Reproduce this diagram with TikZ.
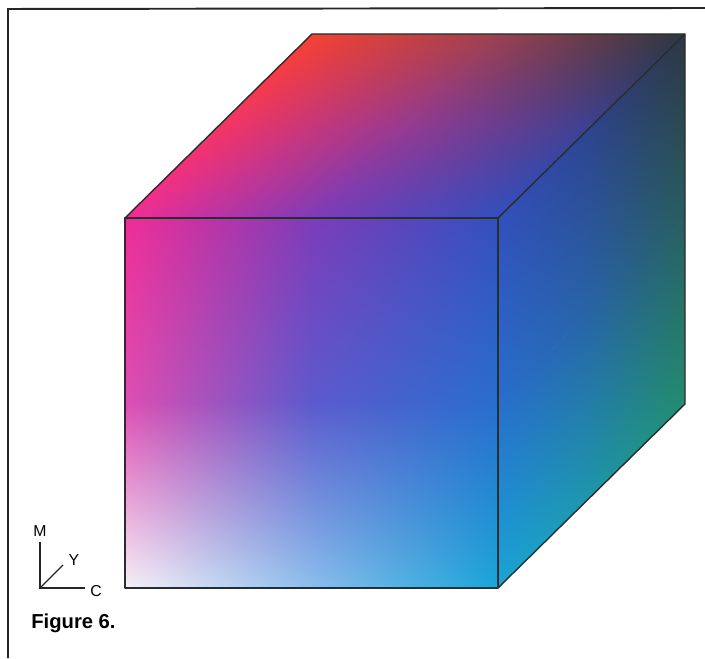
\documentclass[tikz,border=0pt]{standalone}
\usepackage{fontspec}
\setmainfont{Liberation Sans}
\usetikzlibrary{shadings}

% corner and midpoint colours of the three faces
\definecolor{fTL}{RGB}{240,45,150}
\definecolor{fTM}{RGB}{125,60,185}
\definecolor{fTR}{RGB}{50,80,190}
\definecolor{fML}{RGB}{222,78,178}
\definecolor{fMM}{RGB}{92,90,205}
\definecolor{fMR}{RGB}{40,110,205}
\definecolor{fBL}{RGB}{246,240,248}
\definecolor{fBM}{RGB}{140,190,236}
\definecolor{fBR}{RGB}{25,165,215}

\definecolor{tML}{RGB}{245,52,100}
\definecolor{tMM}{RGB}{150,58,145}
\definecolor{tMR}{RGB}{60,65,145}
\definecolor{tTL}{RGB}{245,65,50}
\definecolor{tTM}{RGB}{155,65,80}
\definecolor{tTR}{RGB}{45,55,65}

\definecolor{rTM}{RGB}{45,68,140}
\definecolor{rMM}{RGB}{40,100,165}
\definecolor{rMR}{RGB}{40,95,95}
\definecolor{rBM}{RGB}{30,150,170}
\definecolor{rBR}{RGB}{35,140,110}

\definecolor{edgecol}{RGB}{40,45,45}

% one shaded patch: x1,y1,x2,y2, lower left, lower right, upper left, upper right
\newcommand{\facepatch}[8]{%
  \shade[lower left=#5,lower right=#6,upper left=#7,upper right=#8]
    (#1,#2) rectangle (#3,#4);}

\begin{document}
\begin{tikzpicture}[x=0.02cm,y=0.02cm]
  \tikzset{frameline/.style={line width=1.1pt,black!85},
           cubeedge/.style={line width=0.8pt,edgecol,line join=round},
           axisline/.style={line width=0.8pt,black!85},
           axislabel/.style={font=\fontsize{9}{10}\selectfont,inner sep=0pt}}
  \useasboundingbox (0,0) rectangle (705,658);

  % front face
  \facepatch{125}{70}{311.8}{255.3}{fBL}{fBM}{fML}{fMM}
  \facepatch{311.2}{70}{498}{255.3}{fBM}{fBR}{fMM}{fMR}
  \facepatch{125}{254.7}{311.8}{440}{fML}{fMM}{fTL}{fTM}
  \facepatch{311.2}{254.7}{498}{440}{fMM}{fMR}{fTM}{fTR}

  % top face
  \begin{scope}[transform canvas={xslant=1.01630}]
    \facepatch{-322.17}{440}{-135.37}{532.3}{fTL}{fTM}{tML}{tMM}
    \facepatch{-135.97}{440}{50.83}{532.3}{fTM}{fTR}{tMM}{tMR}
    \facepatch{-322.17}{531.7}{-135.37}{624}{tML}{tMM}{tTL}{tTM}
    \facepatch{-135.97}{531.7}{50.83}{624}{tMM}{tMR}{tTM}{tTR}
  \end{scope}

  % right face
  \begin{scope}[transform canvas={yslant=0.98396}]
    \facepatch{498}{-420.01}{591.8}{-234.71}{fBR}{rBM}{fMR}{rMM}
    \facepatch{591.2}{-420.01}{685}{-234.71}{rBM}{rBR}{rMM}{rMR}
    \facepatch{498}{-235.31}{591.8}{-50.01}{fMR}{rMM}{fTR}{rTM}
    \facepatch{591.2}{-235.31}{685}{-50.01}{rMM}{rMR}{rTM}{tTR}
  \end{scope}

  % cube corners
  \coordinate (A) at (125,70);
  \coordinate (B) at (498,70);
  \coordinate (C) at (498,440);
  \coordinate (D) at (125,440);
  \coordinate (E) at (312,624);
  \coordinate (F) at (685,624);
  \coordinate (G) at (685,254);

  \draw[cubeedge] (A) -- (B) -- (C) -- (D) -- cycle;
  \draw[cubeedge] (D) -- (E) -- (F) -- (G) -- (B);
  \draw[cubeedge] (C) -- (F);

  % frame
  \coordinate (frameTL) at (8,649);
  \coordinate (frameTR) at (705,650);
  \coordinate (frameBL) at (8,0);
  \draw[frameline] (frameBL) -- (frameTL) -- (frameTR);

  % axes
  \coordinate (o) at (40,70);
  \coordinate (mtip) at (40,116);
  \coordinate (ytip) at (63,93);
  \coordinate (ctip) at (85,70);
  \draw[axisline] (mtip) -- (o) -- (ctip);
  \draw[axisline] (o) -- (ytip);
  \node[axislabel] (mlab) at (40,127) {M};
  \node[axislabel] (ylab) at (74,98) {Y};
  \node[axislabel] (clab) at (96,67) {C};

  \node[anchor=west,inner sep=0pt,font=\fontsize{11.5}{13}\selectfont\bfseries] (caption) at (31,35) {Figure 6.};
\end{tikzpicture}
\end{document}
